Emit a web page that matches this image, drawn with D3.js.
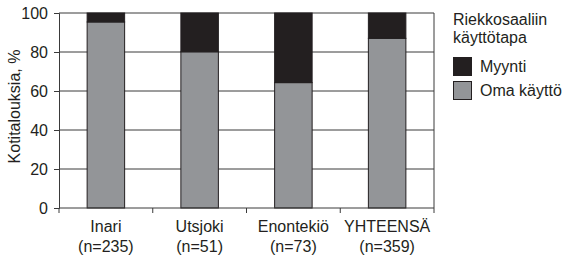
<!DOCTYPE html>
<html>
<head>
<meta charset="utf-8">
<script src="https://cdn.jsdelivr.net/npm/d3@7"></script>
<style>
  body { margin: 0; background: #fff; }
  text { font-family: "Liberation Sans", Arial, sans-serif; fill: #231f20; }
</style>
</head>
<body>
<div id="container"></div>
<script>
// data
var categories = ["Inari", "Utsjoki", "Enontekiö", "YHTEENSÄ"];
var sampleSizes = ["(n=235)", "(n=51)", "(n=73)", "(n=359)"];
var omaKaytto = [95.4, 80.1, 64.3, 87.0];
var myynti = [4.6, 19.9, 35.7, 13.0];
var yTicks = [0, 20, 40, 60, 80, 100];
var seriesNames = ["Myynti", "Oma käyttö"];
var seriesColors = ["#231f20", "#939598"];

var W = 563, H = 260;
var margin = { top: 13, right: 129, bottom: 52, left: 59 };
var width = W - margin.left - margin.right;
var height = H - margin.top - margin.bottom;
var fs = "16px";

var svg = d3.select("#container").append("svg")
  .attr("width", W)
  .attr("height", H);

var g = svg.append("g")
  .attr("transform", "translate(" + margin.left + "," + margin.top + ")");

var x = d3.scaleBand()
  .domain(categories)
  .range([0, width])
  .paddingInner(0.6)
  .paddingOuter(0.3);

var y = d3.scaleLinear()
  .domain([0, 100])
  .range([height, 0]);

// gridlines
g.append("g")
  .selectAll("line")
  .data(yTicks.filter(function(d) { return d > 0; }))
  .enter().append("line")
  .attr("x1", 0).attr("x2", width)
  .attr("y1", function(d) { return y(d); })
  .attr("y2", function(d) { return y(d); })
  .attr("stroke", "#3a3a3a")
  .attr("stroke-width", 1);

// frame right
g.append("line")
  .attr("x1", width).attr("x2", width)
  .attr("y1", 0).attr("y2", height)
  .attr("stroke", "#3a3a3a");

// stacked bars
var rows = categories.map(function(c, i) {
  return { cat: c, oma: omaKaytto[i], myy: myynti[i] };
});

var bars = g.append("g");
bars.selectAll("rect.oma")
  .data(rows)
  .enter().append("rect")
  .attr("class", "oma")
  .attr("x", function(d) { return x(d.cat); })
  .attr("y", function(d) { return y(d.oma); })
  .attr("width", x.bandwidth())
  .attr("height", function(d) { return y(0) - y(d.oma); })
  .attr("fill", seriesColors[1])
  .attr("stroke", "#231f20")
  .attr("stroke-width", 1);

bars.selectAll("rect.myy")
  .data(rows)
  .enter().append("rect")
  .attr("class", "myy")
  .attr("x", function(d) { return x(d.cat); })
  .attr("y", function(d) { return y(d.oma + d.myy); })
  .attr("width", x.bandwidth())
  .attr("height", function(d) { return y(d.oma) - y(d.oma + d.myy); })
  .attr("fill", seriesColors[0])
  .attr("stroke", "#231f20")
  .attr("stroke-width", 1);

// y axis
var yAxis = d3.axisLeft(y)
  .tickValues(yTicks)
  .tickSize(5)
  .tickPadding(6);

var ya = g.append("g").call(yAxis);
ya.select(".domain").attr("stroke", "#3a3a3a");
ya.selectAll(".tick line").attr("stroke", "#3a3a3a");
ya.selectAll("text")
  .style("font-size", fs)
  .attr("fill", "#231f20");

// x axis line with separators
g.append("line")
  .attr("x1", 0).attr("x2", width)
  .attr("y1", height).attr("y2", height)
  .attr("stroke", "#3a3a3a");

var step = x.step();
g.append("g")
  .selectAll("line")
  .data(d3.range(categories.length + 1))
  .enter().append("line")
  .attr("x1", function(i) { return i * step; })
  .attr("x2", function(i) { return i * step; })
  .attr("y1", height)
  .attr("y2", height + 5)
  .attr("stroke", "#3a3a3a");

// x labels
var xl = g.append("g");
xl.selectAll("text.cat")
  .data(categories)
  .enter().append("text")
  .attr("x", function(d) { return x(d) + x.bandwidth() / 2; })
  .attr("y", height + 24)
  .attr("text-anchor", "middle")
  .style("font-size", fs)
  .text(function(d) { return d; });

xl.selectAll("text.n")
  .data(categories)
  .enter().append("text")
  .attr("x", function(d) { return x(d) + x.bandwidth() / 2; })
  .attr("y", height + 44)
  .attr("text-anchor", "middle")
  .style("font-size", fs)
  .text(function(d, i) { return sampleSizes[i]; });

// y title
svg.append("text")
  .attr("transform", "translate(20," + (margin.top + height / 2 - 4) + ") rotate(-90)")
  .attr("text-anchor", "middle")
  .style("font-size", fs)
  .text("Kotitalouksia, %");

// legend
var lg = svg.append("g").attr("transform", "translate(453,0)");
lg.append("text").attr("x", 0).attr("y", 25).style("font-size", fs).text("Riekkosaaliin");
lg.append("text").attr("x", 0).attr("y", 43).style("font-size", fs).text("käyttötapa");

var items = lg.selectAll("g.item")
  .data(seriesNames)
  .enter().append("g")
  .attr("transform", function(d, i) { return "translate(0," + (57 + i * 24) + ")"; });

items.append("rect")
  .attr("x", 0.5).attr("y", 0.5)
  .attr("width", 18).attr("height", 18)
  .attr("fill", function(d, i) { return seriesColors[i]; })
  .attr("stroke", "#231f20");

items.append("text")
  .attr("x", 27)
  .attr("y", 15)
  .style("font-size", fs)
  .text(function(d) { return d; });
</script>
</body>
</html>
